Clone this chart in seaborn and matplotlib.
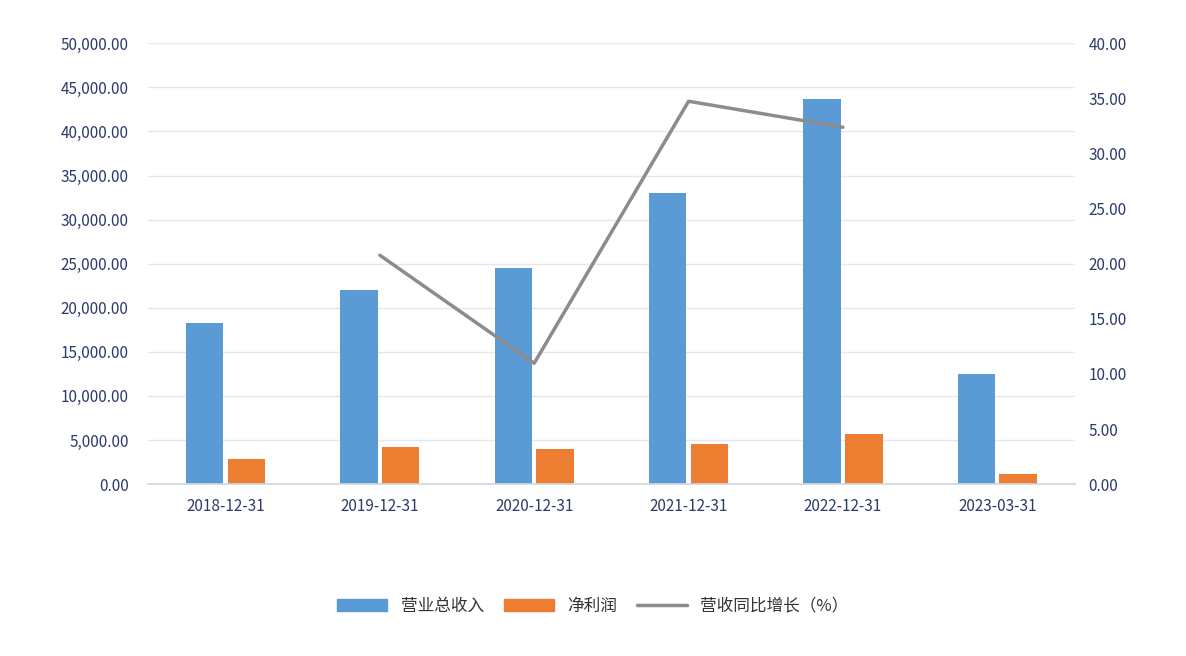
import pandas as pd
import matplotlib.pyplot as plt
import matplotlib.ticker as mticker
import seaborn as sns
from matplotlib.patches import Patch
from matplotlib.lines import Line2D

# Data
dates = ["2018-12-31", "2019-12-31", "2020-12-31", "2021-12-31", "2022-12-31", "2023-03-31"]
revenue = [18300, 22000, 24500, 33000, 43650, 12470]
net_profit = [2830, 4200, 3970, 4540, 5670, 1130]
growth = [None, 20.77, 10.97, 34.74, 32.38, None]

sns.set_theme(style="white")
plt.rcParams['font.family'] = ['Noto Sans CJK SC', 'DejaVu Sans']

df = pd.DataFrame({
    "date": dates * 2,
    "value": revenue + net_profit,
    "kind": ["营业总收入"] * 6 + ["净利润"] * 6,
})

fig, ax = plt.subplots(figsize=(11.86, 6.56), dpi=100)
fig.subplots_adjust(left=0.125, right=0.906, top=0.934, bottom=0.262)

sns.barplot(data=df, x="date", y="value", hue="kind", ax=ax,
            palette=["#5b9bd5", "#ed7d31"], width=0.54, gap=0.1,
            saturation=1, legend=False, edgecolor="none", linewidth=0)

ax.set_ylim(0, 50000)
ax.set_yticks(range(0, 50001, 5000))
ax.yaxis.set_major_formatter(mticker.StrMethodFormatter("{x:,.2f}"))
ax.grid(axis="y", color="#e3e8f0", linewidth=1)
ax.set_axisbelow(True)
ax.set_xlabel("")
ax.set_ylabel("")
for s in ["top", "right", "left"]:
    ax.spines[s].set_visible(False)
ax.spines["bottom"].set_color("#d0d6e0")
ax.tick_params(axis="both", colors="#2d3a6b", labelsize=11, length=0)
ax.tick_params(axis="y", pad=14)
ax.tick_params(axis="x", pad=10)
ax.set_xlim(-0.5, 5.5)

ax2 = ax.twinx()
ax2.plot(range(6), growth, color="#8c8c8c", linewidth=2.5)
ax2.set_ylim(0, 40)
ax2.set_yticks(range(0, 41, 5))
ax2.yaxis.set_major_formatter(mticker.StrMethodFormatter("{x:.2f}"))
for s in ["top", "right", "left", "bottom"]:
    ax2.spines[s].set_visible(False)
ax2.tick_params(axis="y", colors="#2d3a6b", labelsize=11, length=0, pad=10)

handles = [Patch(color="#5b9bd5"), Patch(color="#ed7d31"),
           Line2D([], [], color="#8c8c8c", linewidth=2.5)]
fig.legend(handles, ["营业总收入", "净利润", "营收同比增长（%）"], loc="lower center",
           bbox_to_anchor=(0.5, 0.04), ncol=3, frameon=False, fontsize=12,
           handlelength=3, handleheight=0.8, columnspacing=1.2,
           labelcolor="#333333")

plt.savefig("out.png")
plt.close()
